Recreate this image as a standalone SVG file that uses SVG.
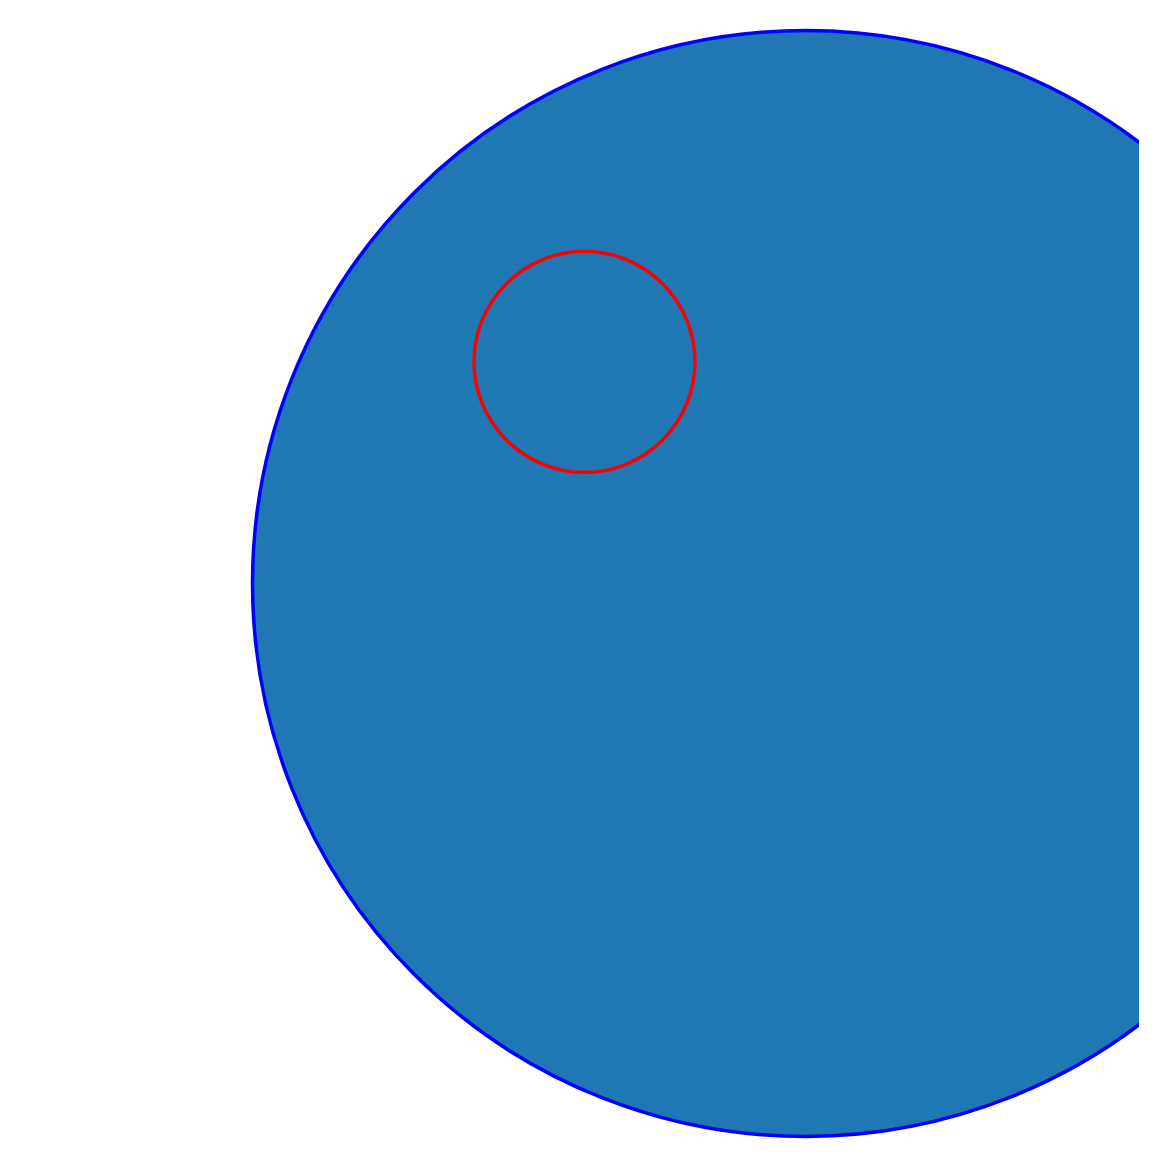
<svg xmlns="http://www.w3.org/2000/svg" width="1168" height="1168" viewBox="0 0 1168 1168">
<defs>
<clipPath id="clip"><rect x="0" y="0" width="1139" height="1168"/></clipPath>
</defs>
<rect width="1168" height="1168" fill="#ffffff"/>
<g clip-path="url(#clip)">
<g id="big-circle"><circle cx="805.5" cy="583.5" r="553" fill="#1f77b4" stroke="#0000ff" stroke-width="3.5"/></g>
<g id="small-circle"><circle cx="584.5" cy="361.8" r="110.5" fill="none" stroke="#ff0000" stroke-width="3.5"/></g>
</g>
</svg>
